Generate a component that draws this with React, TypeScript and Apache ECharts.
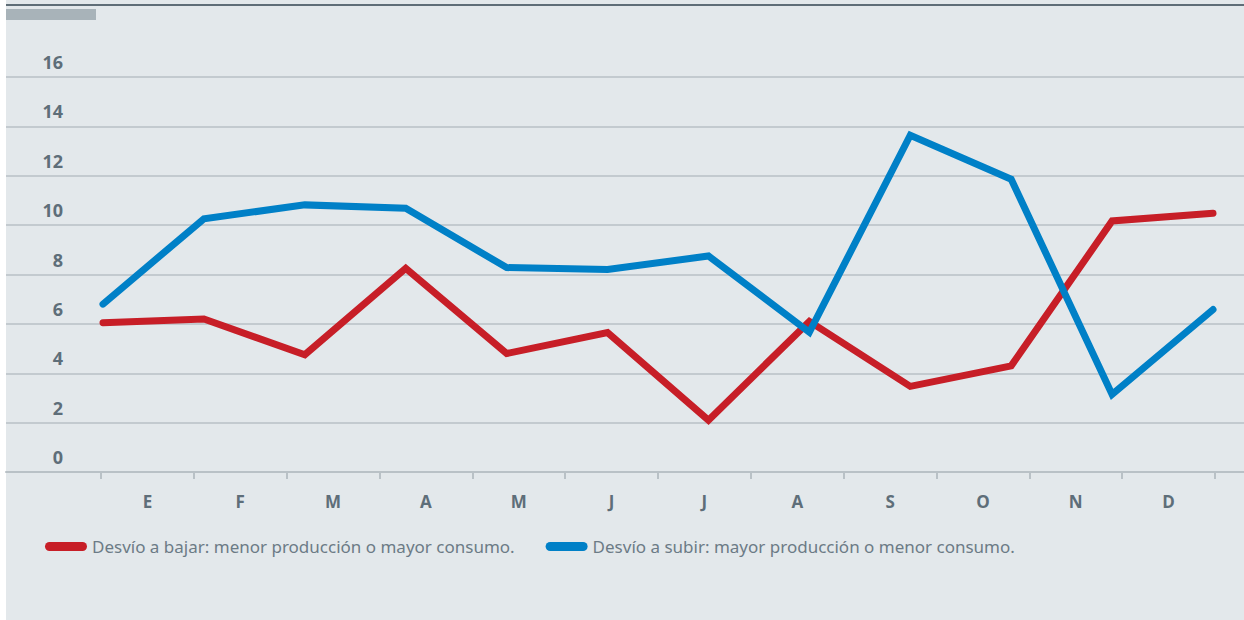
import React, { useEffect, useRef } from "react";
import * as echarts from "echarts";

const months = ["E", "F", "M", "A", "M", "J", "J", "A", "S", "O", "N", "D"];
const seriesDown = [6.05, 6.2, 4.75, 8.25, 4.8, 5.65, 2.1, 6.1, 3.47, 4.3, 10.17, 10.48];
const seriesUp = [6.8, 10.26, 10.82, 10.68, 8.28, 8.2, 8.75, 5.66, 13.64, 11.86, 3.14, 6.58];
const nameDown = "Desvío a bajar: menor producción o mayor consumo.";
const nameUp = "Desvío a subir: mayor producción o menor consumo.";
const yMin = 0;
const yMax = 16;
const yStep = 2;

const RED = "#c71e27";
const BLUE = "#0080c7";
const LABEL = "#5e6e79";
const GRIDC = "#b9c1c6";
const PILL = "path://M4.5,0 L37.5,0 A4.5,4.5 0 0 1 37.5,9 L4.5,9 A4.5,4.5 0 0 1 4.5,0 Z";

export default function App() {
  const ref = useRef<HTMLDivElement>(null);
  useEffect(() => {
    document.body.style.margin = "0";
    const chart = echarts.init(ref.current!, undefined, { renderer: "svg" });
    const top = 77;
    const bottom = 620 - 472;
    chart.setOption({
      animation: false,
      backgroundColor: "transparent",
      textStyle: { fontFamily: "Open Sans" },
      graphic: [
        { type: "line", shape: { x1: 6, y1: 5, x2: 1244, y2: 5 }, style: { stroke: "#5f6d77", lineWidth: 2 } },
        { type: "rect", shape: { x: 6, y: 9, width: 90, height: 11 }, style: { fill: "#a8b3b9" } },
      ],
      grid: [
        { left: 6, right: 0, top, bottom },
        { left: 101, right: 29, top, bottom },
        { left: 103, right: 31, top, bottom },
      ],
      xAxis: [
        {
          gridIndex: 0, type: "category", data: months, show: true,
          axisLine: { show: true, lineStyle: { color: GRIDC, width: 2 } },
          axisTick: { show: false }, axisLabel: { show: false }, splitLine: { show: false },
        },
        {
          gridIndex: 1, type: "category", data: months, boundaryGap: true,
          axisLine: { show: false },
          axisTick: { show: true, length: 7, lineStyle: { color: GRIDC, width: 2 } },
          axisLabel: { show: true, color: LABEL, fontWeight: "bold", fontSize: 17, margin: 21, fontFamily: "Open Sans" },
        },
        { gridIndex: 2, type: "category", data: months, boundaryGap: false, show: false },
      ],
      yAxis: [
        {
          gridIndex: 0, type: "value", min: yMin, max: yMax, interval: yStep,
          axisLine: { show: false }, axisTick: { show: false }, axisLabel: { show: false },
          splitLine: { show: true, lineStyle: { color: GRIDC, width: 1.5 } },
        },
        {
          gridIndex: 1, type: "value", min: yMin, max: yMax, interval: yStep,
          axisLine: { show: false }, axisTick: { show: false }, splitLine: { show: false },
          axisLabel: {
            show: true, color: LABEL, fontWeight: "bold", fontSize: 18, margin: 38,
            verticalAlign: "bottom", padding: [0, 0, 6, 0], fontFamily: "Open Sans",
          },
        },
        { gridIndex: 2, type: "value", min: yMin, max: yMax, interval: yStep, show: false },
      ],
      legend: {
        left: 45, top: 538, padding: 0, icon: PILL, itemWidth: 42, itemHeight: 9, itemGap: 31,
        textStyle: { color: "#6c7b86", fontSize: 17, fontFamily: "Noto Sans" },
        data: [nameDown, nameUp],
      },
      series: [
        {
          name: nameDown, type: "line", xAxisIndex: 2, yAxisIndex: 2, data: seriesDown,
          symbol: "none", color: RED, lineStyle: { color: RED, width: 7, cap: "round", join: "miter" },
        },
        {
          name: nameUp, type: "line", xAxisIndex: 2, yAxisIndex: 2, data: seriesUp,
          symbol: "none", color: BLUE, lineStyle: { color: BLUE, width: 7, cap: "round", join: "miter" },
        },
      ],
    });
    return () => chart.dispose();
  }, []);
  return (
    <div
      ref={ref}
      style={{
        width: 1244, height: 620,
        background: "linear-gradient(to right, #ffffff 6px, #e3e8eb 6px)",
      }}
    />
  );
}
